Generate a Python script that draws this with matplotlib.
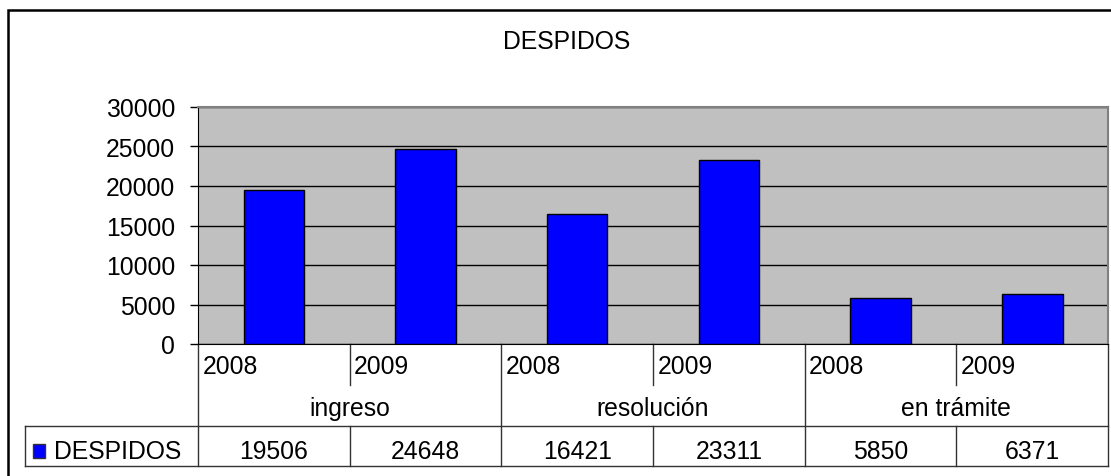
import matplotlib
matplotlib.use('Agg')
import matplotlib.pyplot as plt
import matplotlib.transforms as mtrans
from matplotlib.patches import Rectangle

# Data
groups = ['ingreso', 'resolución', 'en trámite']
years = ['2008', '2009']
despidos = [19506, 24648, 16421, 23311, 5850, 6371]
series_name = 'DESPIDOS'
yticks = [0, 5000, 10000, 15000, 20000, 25000, 30000]

# ================================================================================== #
' Figure setup '

W, H = 1111, 477
plt.rcParams['font.family'] = ['Liberation Sans', 'DejaVu Sans']
fs = 17.8
line_col = '#333333'

fig = plt.figure(figsize=(W / 100, H / 100), dpi=100)

def fx(px):
  return px / W

def fy(py):
  return 1 - py / H

# plot area in pixels: left 198, right 1108, top 108, bottom 345
ax = fig.add_axes([fx(198), fy(345), fx(1108) - fx(198), fy(108) - fy(345)])
ax.set_facecolor('#C0C0C0')

n = len(despidos)
xs = [i + 0.5 for i in range(n)]
ax.bar(xs, despidos, width=0.4, color='#0000FF', edgecolor='black', linewidth=1, zorder=3)

ax.set_xlim(0, n)
ax.set_ylim(0, 30000)
ax.set_yticks(yticks)
ax.set_yticklabels([str(v) for v in yticks], fontsize=fs)
ax.set_xticks([])
ax.yaxis.grid(True, color='black', linewidth=1)
ax.set_axisbelow(True)
ax.tick_params(axis='y', length=5.8, width=1, pad=10.5, color='black')

for s in ['top', 'right']:
  ax.spines[s].set_color('#808080')
  ax.spines[s].set_linewidth(1.5)
ax.spines['left'].set_color('black')
ax.spines['bottom'].set_color('black')

# ================================================================================== #
' Title and frame '

fig.text(fx(567), fy(49), 'DESPIDOS', fontsize=fs, ha='center', va='baseline')
fig.patches.append(Rectangle((fx(8), fy(H + 20)), 2, fy(11) - fy(H + 20),
                             transform=fig.transFigure, fill=False,
                             edgecolor='black', linewidth=1.8))

# ================================================================================== #
' Data table below the plot '

tr = mtrans.blended_transform_factory(ax.transData, fig.transFigure)
fig_tr = fig.transFigure

def vline(x, y0, y1):
  ax.plot([x, x], [fy(y0), fy(y1)], transform=tr, color=line_col, lw=1, clip_on=False)

# year row and category row
for i in range(n + 1):
  if i % 2 == 0:
    vline(i, 345, 467)
  else:
    vline(i, 345, 386)
    vline(i, 427, 467)

for i in range(n):
  ax.text(i + 0.03, fy(374), years[i % 2], transform=tr, fontsize=fs,
          ha='left', va='baseline')

for g, name in enumerate(groups):
  ax.text(2 * g + 1, fy(416), name, transform=tr, fontsize=fs,
          ha='center', va='baseline')

# data row
left_px = 25
fig.lines.append(plt.Line2D([fx(left_px), fx(left_px)], [fy(427), fy(467)],
                            transform=fig_tr, color=line_col, lw=1))
fig.lines.append(plt.Line2D([fx(left_px), fx(1108)], [fy(427), fy(427)],
                            transform=fig_tr, color=line_col, lw=1))
fig.lines.append(plt.Line2D([fx(left_px), fx(1108)], [fy(467), fy(467)],
                            transform=fig_tr, color=line_col, lw=1))

# legend key
fig.patches.append(Rectangle((fx(33), fy(459)), fx(45) - fx(33), fy(445) - fy(459),
                             transform=fig_tr, facecolor='#0000FF',
                             edgecolor='#333333', linewidth=1))
fig.text(fx(54), fy(459), series_name, fontsize=fs, ha='left', va='baseline')

for i, v in enumerate(despidos):
  ax.text(i + 0.5, fy(459), str(v), transform=tr, fontsize=fs,
          ha='center', va='baseline')

fig.savefig('out.png', dpi=100)
